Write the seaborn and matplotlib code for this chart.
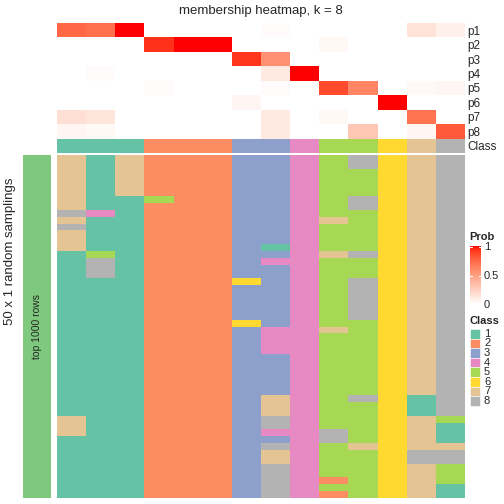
import numpy as np
import matplotlib
matplotlib.use("Agg")
import matplotlib.pyplot as plt
import seaborn as sns
from matplotlib.colors import ListedColormap
from matplotlib.patches import Rectangle

# membership probabilities (rows p1..p8, 14 consensus columns)
prob_labels = ["p1", "p2", "p3", "p4", "p5", "p6", "p7", "p8"]
p1 = [0.75, 0.72, 1.00, 0, 0, 0, 0, 0.02, 0, 0, 0, 0, 0.15, 0.08]
p2 = [0, 0, 0, 0.93, 1.00, 1.00, 0, 0, 0, 0.04, 0, 0, 0, 0]
p3 = [0, 0, 0, 0, 0, 0, 0.92, 0.57, 0, 0, 0, 0, 0, 0]
p4 = [0, 0.02, 0, 0, 0, 0, 0, 0.12, 1.00, 0, 0, 0, 0, 0]
p5 = [0, 0, 0, 0.02, 0, 0, 0, 0.02, 0, 0.86, 0.62, 0, 0.03, 0.05]
p6 = [0, 0, 0, 0, 0, 0, 0.05, 0, 0, 0, 0, 1.00, 0, 0]
p7 = [0.17, 0.13, 0, 0, 0, 0, 0, 0.12, 0, 0.04, 0, 0, 0.70, 0]
p8 = [0.05, 0.04, 0, 0, 0, 0, 0, 0.12, 0, 0, 0.30, 0, 0.05, 0.80]

# consensus class of each column
consensus_class = [1, 1, 1, 2, 2, 2, 3, 3, 4, 5, 5, 6, 7, 8]

# class assigned in each of the 50 random samplings (one string per sampling)
sampling_rows = [
    "71722233458678", "71722233458678", "71722233455678", "71722233455678",
    "71722233455678", "71722233455678", "71152233458678", "71122233458678",
    "84122233455678", "71122233475678", "81122233455678", "71122233455678",
    "71122233455678", "71122231455678", "15122233478678", "18122234455678",
    "18122233455678", "18122233455678", "11122263458678", "11122233458678",
    "11122233458678", "11122233458678", "11122233458678", "11122233458678",
    "11122263455678", "11122234475678", "11122234455678", "11122234455678",
    "11122234455678", "11122233455678", "11122233455678", "11122233455678",
    "11122233455678", "11122233455678", "11122233455678", "11122237458618",
    "11122237455618", "11122237455618", "71122238455675", "71122238455671",
    "71122234485671", "11122233485671", "11122238457677", "11122237455688",
    "11122237455688", "11122238455675", "11122238455675", "11122238425675",
    "11122238455671", "11122238425671",
]

class_names = ["1", "2", "3", "4", "5", "6", "7", "8"]
class_colors = sns.color_palette("Set2", 8)


def white_red_lab(n=256):
    # white -> red, interpolated in CIELAB like circlize::colorRamp2
    t = np.linspace(0, 1, n)[:, None]
    lab = np.array([100.0, 0.0, 0.0]) * (1 - t) + np.array([53.24, 80.09, 67.20]) * t
    L, a, b = lab.T
    fy = (L + 16) / 116
    fx = fy + a / 500
    fz = fy - b / 200

    def finv(f):
        return np.where(f ** 3 > 0.008856, f ** 3, (f - 16 / 116) / 7.787)

    xyz = np.stack([0.95047 * finv(fx), finv(fy), 1.08883 * finv(fz)], axis=1)
    m = np.array([[3.2406, -1.5372, -0.4986],
                  [-0.9689, 1.8758, 0.0415],
                  [0.0557, -0.2040, 1.0570]])
    rgb = np.clip(xyz @ m.T, 0, 1)
    rgb = np.where(rgb <= 0.0031308, 12.92 * rgb, 1.055 * rgb ** (1 / 2.4) - 0.055)
    return ListedColormap(np.clip(rgb, 0, 1))


sns.set_style("white")
plt.rcParams["font.family"] = ["Liberation Sans", "DejaVu Sans"]

W = H = 504
fig = plt.figure(figsize=(5.04, 5.04), dpi=100)


def px_axes(x0, y0, x1, y1):
    # axes from pixel box measured from the top-left corner
    return fig.add_axes([x0 / W, 1 - y1 / H, (x1 - x0) / W, (y1 - y0) / H])


prob_cmap = white_red_lab()
class_cmap = ListedColormap(class_colors)

membership = np.array([p1, p2, p3, p4, p5, p6, p7, p8])
samplings = np.array([[int(c) for c in row] for row in sampling_rows])

# membership heatmap
ax_top = px_axes(57, 23, 465, 138.5)
sns.heatmap(membership, ax=ax_top, cmap=prob_cmap, vmin=0, vmax=1, cbar=False,
            xticklabels=False, yticklabels=prob_labels)
ax_top.yaxis.tick_right()
ax_top.tick_params(axis="y", length=0, pad=2, labelsize=8.5, labelrotation=0)

# consensus class bar
ax_cls = px_axes(57, 138.5, 465, 152.5)
sns.heatmap(np.array([consensus_class]), ax=ax_cls, cmap=class_cmap, vmin=0.5, vmax=8.5,
            cbar=False, xticklabels=False, yticklabels=["Class"])
ax_cls.yaxis.tick_right()
ax_cls.tick_params(axis="y", length=0, pad=2, labelsize=8.5, labelrotation=0)

# classes from the random samplings
ax_main = px_axes(57, 155, 465, 498)
sns.heatmap(samplings, ax=ax_main, cmap=class_cmap, vmin=0.5, vmax=8.5, cbar=False,
            xticklabels=False, yticklabels=False)

# left block annotation
ax_blk = px_axes(23, 155, 51, 498)
ax_blk.set_facecolor("#7FC97F")
ax_blk.set_xticks([])
ax_blk.set_yticks([])
for s in ax_blk.spines.values():
    s.set_visible(False)
ax_blk.text(0.5, 0.5, "top 1000 rows", rotation=90, ha="center", va="center",
            fontsize=7.5, transform=ax_blk.transAxes)

fig.text(10 / W, 1 - 251 / H, "50 x 1 random samplings", rotation=90,
         ha="center", va="center", fontsize=9.5)
fig.text(261 / W, 1 - 11 / H, "membership heatmap, k = 8", ha="center", va="center",
         fontsize=9.5)

# Prob legend
fig.text(469 / W, 1 - 237 / H, "Prob", ha="left", va="center", fontsize=8, fontweight="bold")
cax = px_axes(470, 246, 481, 304)
sm = plt.cm.ScalarMappable(cmap=prob_cmap, norm=plt.Normalize(0, 1))
cb = fig.colorbar(sm, cax=cax, ticks=[0, 0.5, 1])
cb.outline.set_visible(False)
cb.ax.set_yticklabels(["0", "0.5", "1"])
cb.ax.tick_params(length=0, pad=2, labelsize=8)
for v in [0.5, 1.0]:
    cb.ax.plot([0, 0.2], [v - 0.01, v - 0.01], color="white", lw=0.8, transform=cb.ax.get_yaxis_transform())
    cb.ax.plot([0.8, 1], [v - 0.01, v - 0.01], color="white", lw=0.8, transform=cb.ax.get_yaxis_transform())

# Class legend
fig.text(469 / W, 1 - 321 / H, "Class", ha="left", va="center", fontsize=8, fontweight="bold")
for i, (name, col) in enumerate(zip(class_names, class_colors)):
    y_top = 329 + 9.6 * i
    fig.add_artist(Rectangle((470 / W, 1 - (y_top + 9.6) / H), 9.5 / W, 9.6 / H,
                             facecolor=col, edgecolor="white", lw=0.4,
                             transform=fig.transFigure))
    fig.text(484 / W, 1 - (y_top + 4.8) / H, name, ha="left", va="center", fontsize=8)

fig.savefig("out.png", dpi=100)
